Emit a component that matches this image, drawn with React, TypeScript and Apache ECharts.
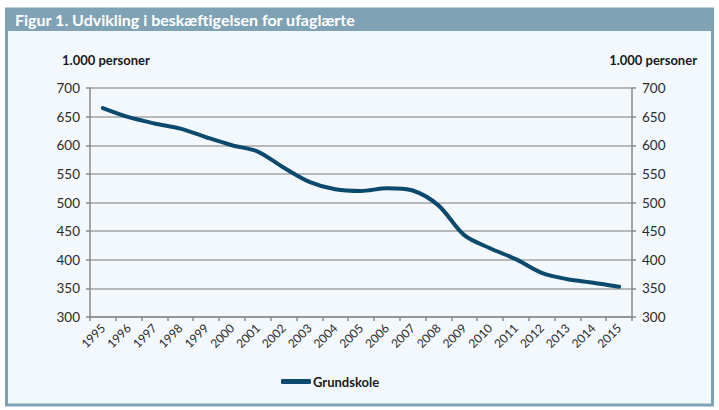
import * as echarts from 'echarts';
import React, { useEffect, useRef } from 'react';

const years: string[] = [
  '1995', '1996', '1997', '1998', '1999', '2000', '2001', '2002', '2003', '2004', '2005',
  '2006', '2007', '2008', '2009', '2010', '2011', '2012', '2013', '2014', '2015',
];
const grundskole: number[] = [
  665, 649, 638, 629, 614, 600, 589, 561, 536, 523, 520,
  525, 521, 495, 443, 420, 401, 377, 366, 360, 353,
];
const seriesName = 'Grundskole';
const titleText = 'Figur 1. Udvikling i beskæftigelsen for ufaglærte';
const unitText = '1.000 personer';

const FONT = 'Lato, "Open Sans", sans-serif';
const FRAME = '#7fa2b5';
const LINE = '#0b4a6d';
const GRID = '#a3a3a3';

const App: React.FC = () => {
  const chartRef = useRef<HTMLDivElement>(null);
  useEffect(() => {
    if (!chartRef.current) return;

    const chart = echarts.init(chartRef.current, null, { renderer: 'svg' });

    const yAxisBase = {
      type: 'value' as const,
      min: 300,
      max: 700,
      interval: 50,
      axisLine: { show: true, lineStyle: { color: '#8a8a8a', width: 1.5 } },
      axisTick: { show: true, length: 4, lineStyle: { color: '#8a8a8a', width: 1.5 } },
      axisLabel: { color: '#2b2b2b', fontSize: 13.5, fontFamily: FONT, margin: 10 },
    };

    const option: echarts.EChartsOption = {
      animation: false,
      backgroundColor: '#ffffff',
      textStyle: { fontFamily: FONT },
      graphic: [
        {
          type: 'rect',
          z: -10,
          shape: { x: 6.5, y: 9, width: 706, height: 396 },
          style: { fill: '#f3f8fc', stroke: FRAME, lineWidth: 3 },
        },
        {
          type: 'rect',
          z: -9,
          shape: { x: 5, y: 8, width: 709, height: 23 },
          style: { fill: FRAME },
        },
        {
          type: 'text',
          x: 15,
          y: 19.5,
          style: {
            text: titleText,
            fill: '#ffffff',
            font: `bold 16px ${FONT}`,
            textVerticalAlign: 'middle',
          },
        },
        {
          type: 'text',
          x: 62,
          y: 60,
          style: {
            text: unitText,
            fill: '#1a1a1a',
            font: `bold 13px ${FONT}`,
            textVerticalAlign: 'middle',
          },
        },
        {
          type: 'text',
          x: 697,
          y: 60,
          style: {
            text: unitText,
            fill: '#1a1a1a',
            font: `bold 13px ${FONT}`,
            textAlign: 'right',
            textVerticalAlign: 'middle',
          },
        },
      ],
      grid: {
        left: 90,
        right: 87,
        top: 88,
        bottom: 93,
        containLabel: false,
      },
      legend: {
        left: 276,
        top: 370,
        icon: 'roundRect',
        itemWidth: 30,
        itemHeight: 5,
        itemGap: 10,
        textStyle: { color: '#1a1a1a', fontSize: 13, fontWeight: 'bold', fontFamily: FONT, padding: [0, 0, 0, -3] },
        data: [seriesName],
      },
      xAxis: {
        type: 'category',
        data: years,
        boundaryGap: true,
        axisLine: { show: true, lineStyle: { color: '#8a8a8a', width: 1.5 } },
        axisTick: { show: true, length: 4, alignWithLabel: false, lineStyle: { color: '#8a8a8a', width: 1.5 } },
        axisLabel: {
          rotate: 45,
          interval: 0,
          color: '#2b2b2b',
          fontSize: 12,
          fontFamily: FONT,
          margin: 9,
        },
      },
      yAxis: [
        {
          ...yAxisBase,
          position: 'left',
          splitLine: { show: true, lineStyle: { color: GRID, width: 1.5 } },
        },
        {
          ...yAxisBase,
          position: 'right',
          splitLine: { show: false },
        },
      ],
      series: [
        {
          name: seriesName,
          type: 'line',
          data: grundskole,
          symbol: 'none',
          smooth: 0.3,
          lineStyle: { color: LINE, width: 4, cap: 'round' },
          itemStyle: { color: LINE },
        },
      ],
    };

    chart.setOption(option);

    return () => {
      chart.dispose();
    };
  }, []);

  return (
    <div
      ref={chartRef}
      style={{
        position: 'absolute',
        left: 0,
        top: 0,
        width: '719px',
        height: '410px',
      }}
    />
  );
};

export default App;
